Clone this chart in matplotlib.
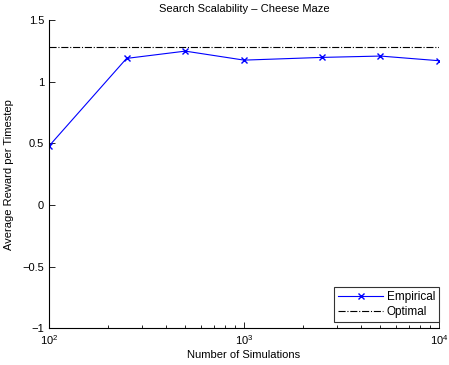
import matplotlib
matplotlib.use("Agg")
import matplotlib.pyplot as plt
from matplotlib.ticker import LogLocator, NullFormatter, FixedLocator

plt.rcParams['font.family'] = ['Liberation Sans', 'DejaVu Sans']

simulations = [100, 250, 500, 1000, 2500, 5000, 10000]
empirical = [0.477, 1.189, 1.248, 1.175, 1.197, 1.208, 1.170]
optimal = 1.28

fig = plt.figure(figsize=(4.49, 3.65), dpi=100)
ax = fig.add_axes([0.109, 0.101, 0.869, 0.844])

ax.plot(simulations, empirical, color='#0000ff', marker='x', markersize=4,
        linewidth=0.8, label='Empirical')
ax.plot([100, 10000], [optimal, optimal], color='black', linestyle='-.',
        linewidth=0.8, label='Optimal')

ax.set_xscale('log')
ax.set_xlim(100, 10000)
ax.set_ylim(-1, 1.5)
ax.yaxis.set_major_locator(FixedLocator([-1, -0.5, 0, 0.5, 1, 1.5]))
ax.set_yticklabels(['\u22121', '\u22120.5', '0', '0.5', '1', '1.5'])
ax.xaxis.set_minor_locator(LogLocator(base=10, subs=range(2, 10)))
ax.xaxis.set_minor_formatter(NullFormatter())

for s in ['top', 'right']:
    ax.spines[s].set_visible(False)
for s in ['left', 'bottom']:
    ax.spines[s].set_linewidth(0.8)

ax.tick_params(which='both', direction='in', labelsize=8, width=0.6)
ax.tick_params(which='major', length=4)
ax.tick_params(which='minor', length=2)

ax.set_title('Search Scalability \u2013 Cheese Maze', fontsize=8, pad=6)
ax.set_xlabel('Number of Simulations', fontsize=8, labelpad=2)
ax.set_ylabel('Average Reward per Timestep', fontsize=8, labelpad=6)

leg = ax.legend(loc='lower right', fontsize=8.5, frameon=True, fancybox=False,
                borderpad=0.35, handlelength=3.8, handletextpad=0.3,
                labelspacing=0.25, borderaxespad=0.0,
                bbox_to_anchor=(1.0, 0.02))
leg.get_frame().set_edgecolor('black')
leg.get_frame().set_linewidth(0.8)

fig.savefig('out.png', dpi=100)
